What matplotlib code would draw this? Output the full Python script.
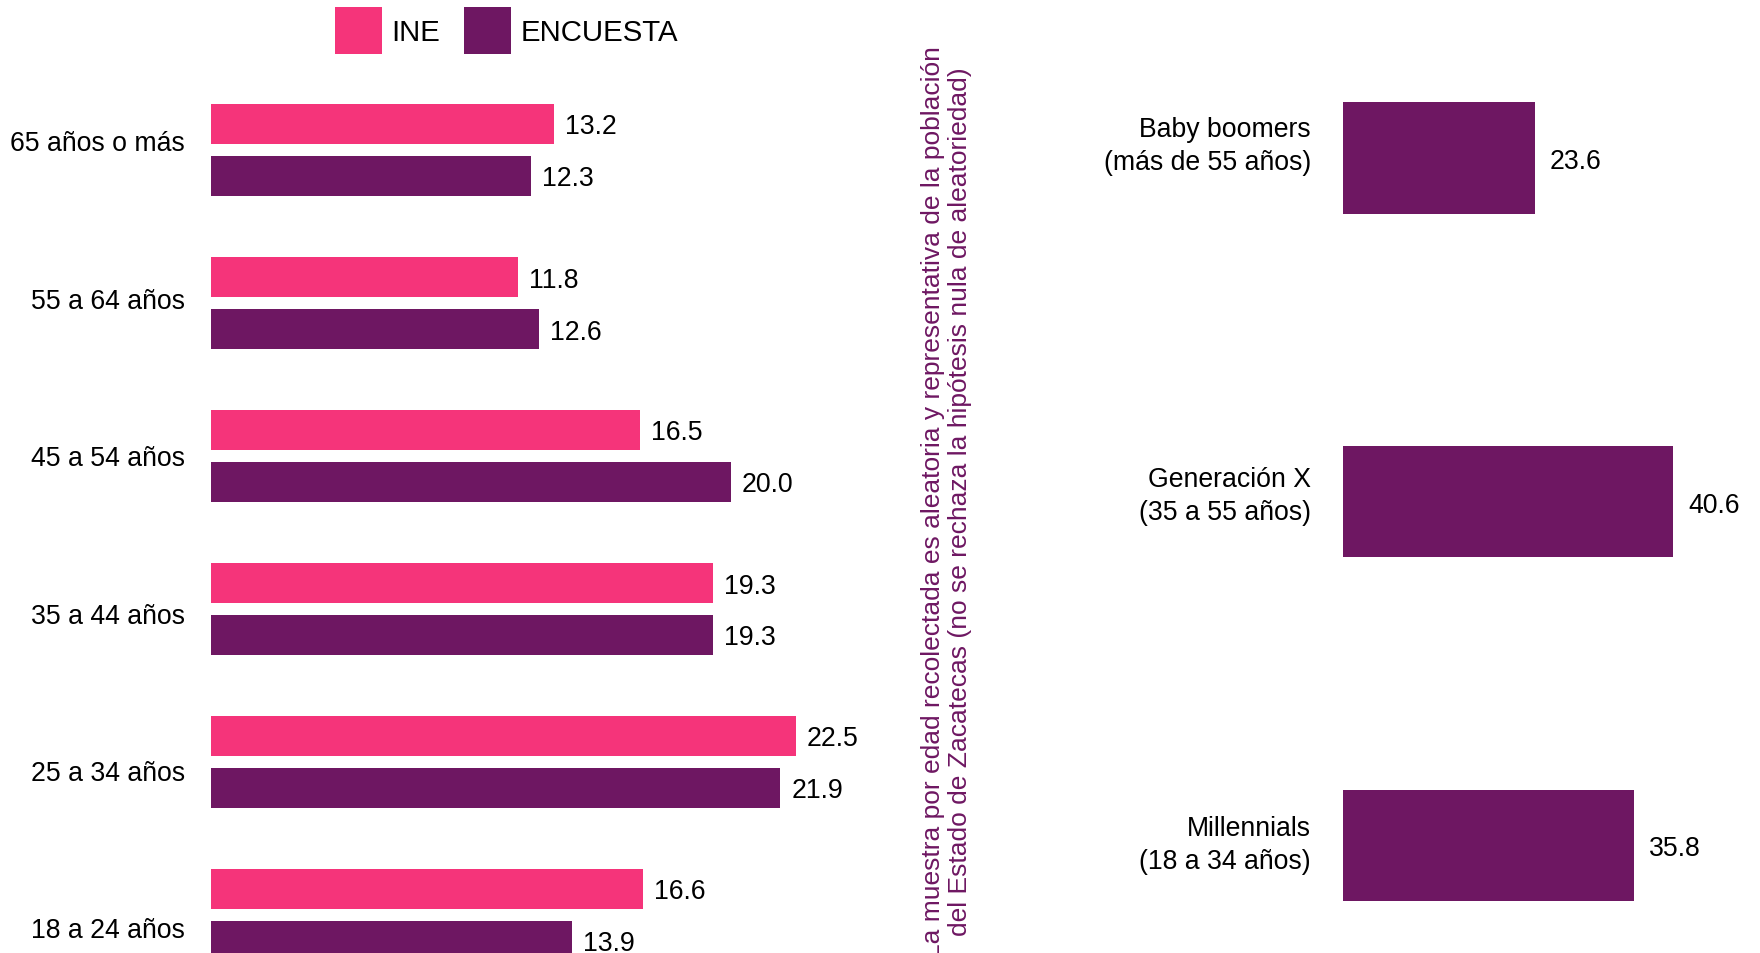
import matplotlib
matplotlib.use("Agg")
import matplotlib.pyplot as plt
from matplotlib.patches import Patch
import numpy as np

plt.rcParams['font.family'] = ['Liberation Sans', 'DejaVu Sans']

# ---- data ----
age_groups = ["65 años o más", "55 a 64 años", "45 a 54 años",
              "35 a 44 años", "25 a 34 años", "18 a 24 años"]
ine_values = [13.2, 11.8, 16.5, 19.3, 22.5, 16.6]
encuesta_values = [12.3, 12.6, 20.0, 19.3, 21.9, 13.9]

generations = ["Baby boomers\n(más de 55 años)", "Generación X\n(35 a 55 años)",
               "Millennials\n(18 a 34 años)"]
generation_values = [23.6, 40.6, 35.8]

series_names = ["INE", "ENCUESTA"]
note_text = ("La muestra por edad recolectada es aleatoria y representativa de la población\n"
             "del Estado de Zacatecas (no se rechaza la hipótesis nula de aleatoriedad)")

PINK = "#F5347A"
PURPLE = "#6E1762"

W, H = 1760, 954
DPI = 100
PX2PT = 72.0 / DPI
FS = 19.2

fig = plt.figure(figsize=(W / DPI, H / DPI), dpi=DPI)

# ---- left panel ----
gstep = 153.0       # px between groups
g0 = 151.0          # px of first group center
axL_left, axL_w = 211.0, 700.0
unitL = 26.0        # px per unit
axL = fig.add_axes([axL_left / W, 0, axL_w / W, 1])
axL.set_xlim(0, axL_w / unitL)
axL.set_ylim((H - g0) / gstep, -g0 / gstep)
y = np.arange(len(age_groups))
off = 26.0 / gstep
bh = 39.4 / gstep
b1 = axL.barh(y - off, ine_values, height=bh, color=PINK)
b2 = axL.barh(y + off, encuesta_values, height=bh, color=PURPLE)
for b in (b1, b2):
    anns = axL.bar_label(b, labels=[f"{v:.1f}" for v in b.datavalues],
                         padding=11 * PX2PT, fontsize=FS, color="black")
    for a in anns:
        a.xyann = (a.xyann[0], -2.5 * PX2PT)
axL.set_yticks(-9.7 / gstep + y * (157.4 / gstep))
axL.set_yticklabels(age_groups, fontsize=FS)
axL.tick_params(axis="y", length=0, pad=26 * PX2PT)
axL.set_xticks([])
for s in axL.spines.values():
    s.set_visible(False)
axL.patch.set_alpha(0)

# ---- right panel ----
rstep = 343.7
r0 = 159.0
axR_left, axR_w = 1342.8, 400.0
unitR = 8.14
axR = fig.add_axes([axR_left / W, 0, axR_w / W, 1])
axR.set_xlim(0, axR_w / unitR)
axR.set_ylim((H - r0) / rstep, -r0 / rstep)
yr = np.arange(len(generations))
b3 = axR.barh(yr, generation_values, height=111.5 / rstep, color=PURPLE)
anns = axR.bar_label(b3, labels=[f"{v:.1f}" for v in generation_values],
                     padding=15 * PX2PT, fontsize=FS, color="black")
for a in anns:
    a.xyann = (a.xyann[0], -3.0 * PX2PT)
axR.set_yticks(-12.3 / rstep + yr * (349.5 / rstep))
axR.set_yticklabels(generations, fontsize=FS)
for lbl in axR.get_yticklabels():
    lbl.set_linespacing(1.33)
    lbl.set_va("center")
axR.tick_params(axis="y", length=0, pad=31.8 * PX2PT)
axR.set_xticks([])
for s in axR.spines.values():
    s.set_visible(False)
axR.patch.set_alpha(0)

# ---- vertical note ----
fig.text(946.7 / W, 1 - 502 / H, note_text, rotation=90, ha="center", va="center",
         multialignment="center", fontsize=19.0, color=PURPLE, linespacing=1.18)

# ---- legend ----
LFS = 21.2
sq = 46.7 * PX2PT / LFS
handles = [Patch(facecolor=PINK, edgecolor="none"), Patch(facecolor=PURPLE, edgecolor="none")]
fig.legend(handles, series_names, loc="upper left",
           bbox_to_anchor=(335 / W, 1 - 8 / H), ncol=2, frameon=False,
           fontsize=LFS, handlelength=sq, handleheight=sq * 1.32, borderpad=0,
           borderaxespad=0, handletextpad=10 * PX2PT / LFS,
           columnspacing=23.5 * PX2PT / LFS)

fig.savefig("out.png", dpi=DPI)
